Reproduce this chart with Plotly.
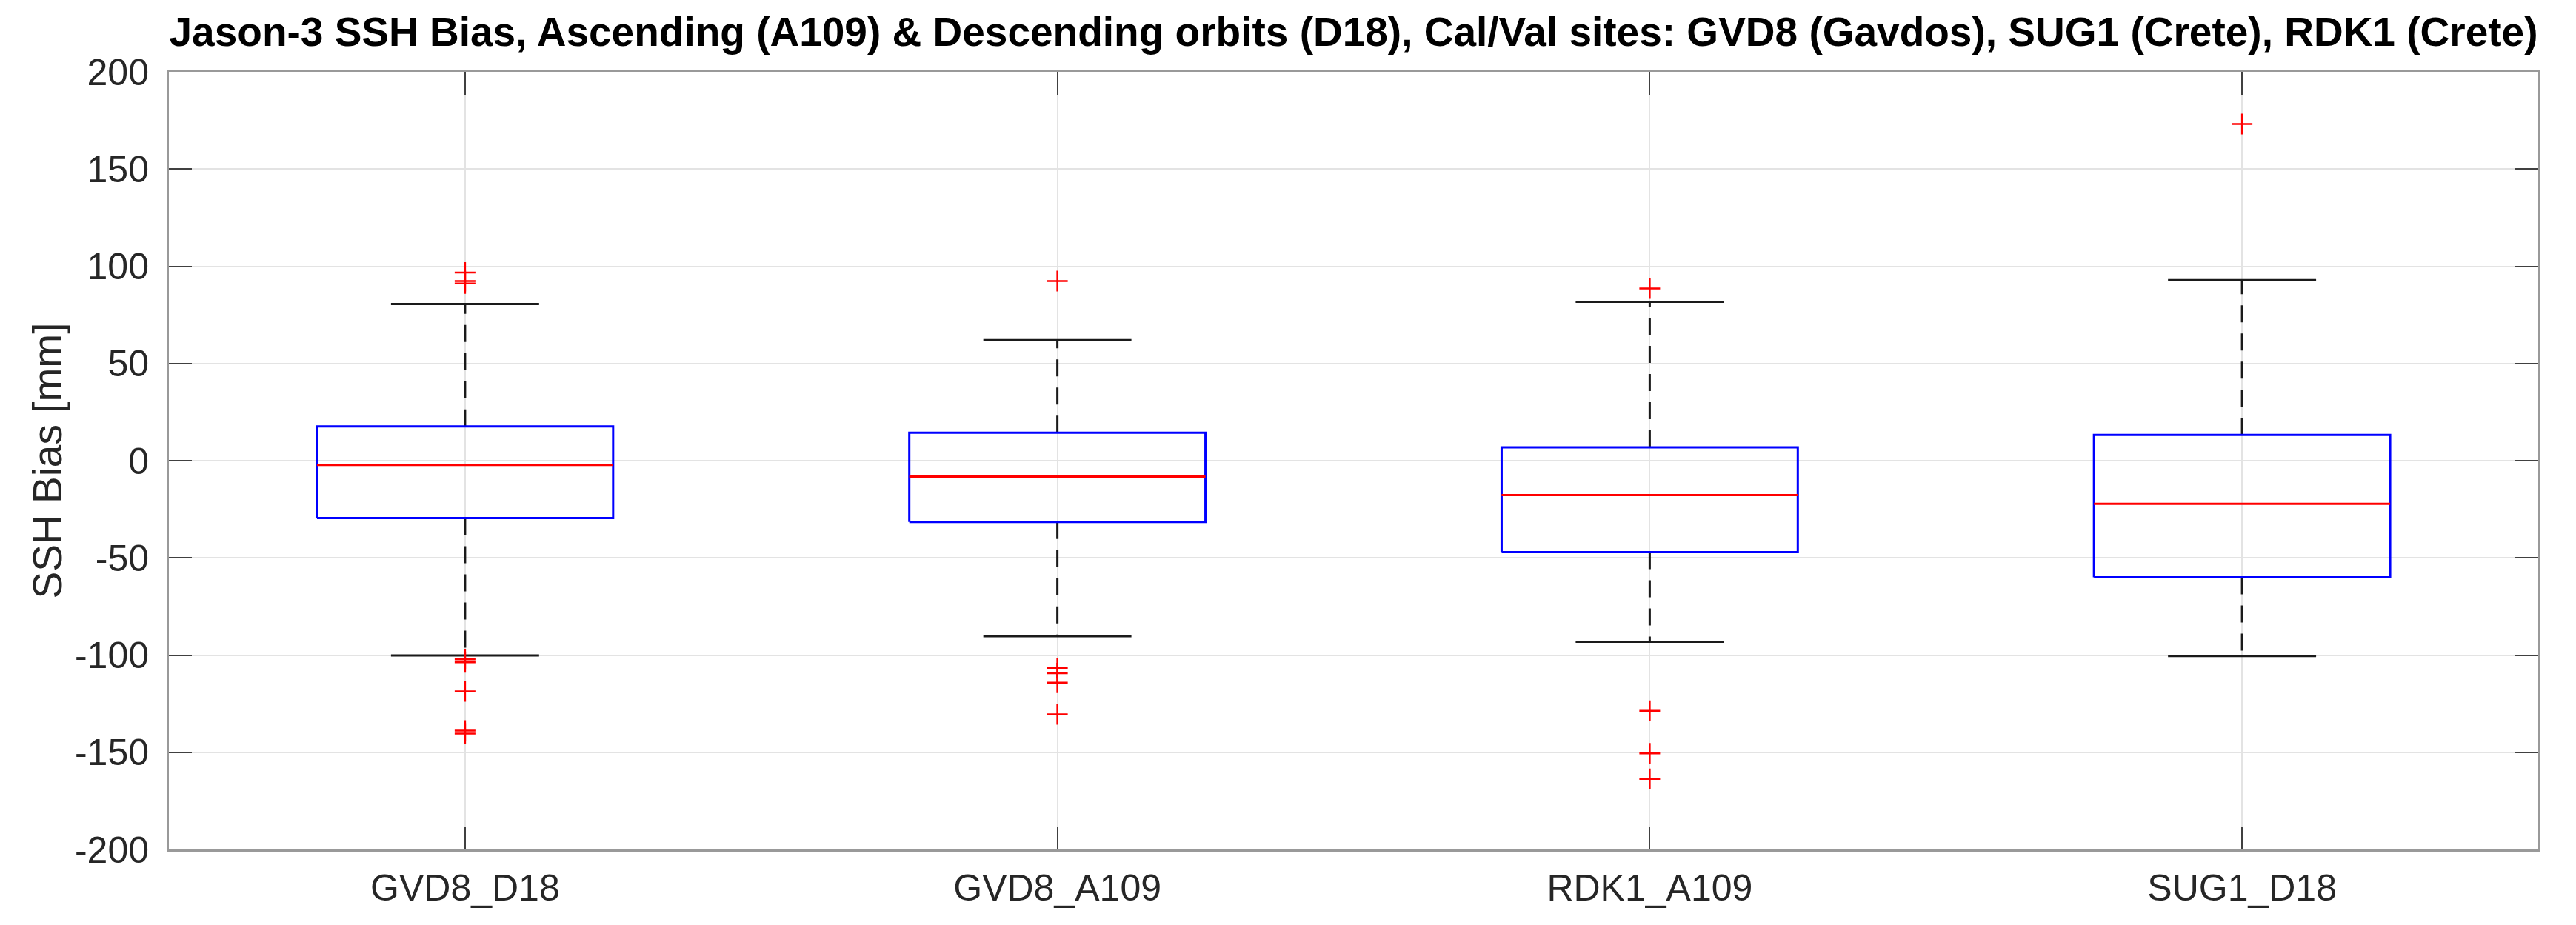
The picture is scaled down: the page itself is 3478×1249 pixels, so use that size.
import plotly.graph_objects as go

# ---- data ----
categories = ["GVD8_D18", "GVD8_A109", "RDK1_A109", "SUG1_D18"]
q1 = [-29.5, -31.5, -47.0, -60.0]
medians = [-2.2, -8.2, -17.7, -22.2]
q3 = [17.6, 14.4, 6.9, 13.2]
lower_whisker = [-100.2, -90.3, -93.1, -100.5]
upper_whisker = [80.6, 62.0, 81.7, 92.9]
outliers_gvd8_d18 = [96.8, 92.4, 91.1, -102.2, -103.7, -118.7, -138.9, -140.4]
outliers_gvd8_a109 = [92.4, -106.7, -109.3, -114.2, -130.5]
outliers_rdk1_a109 = [88.6, -128.7, -150.6, -163.7]
outliers_sug1_d18 = [173.1]
outliers = [outliers_gvd8_d18, outliers_gvd8_a109, outliers_rdk1_a109, outliers_sug1_d18]
y_tick_values = [-200, -150, -100, -50, 0, 50, 100, 150, 200]
y_tick_labels = ["-200", "-150", "-100", "-50", "0", "50", "100", "150", "200"]

title_text = ("Jason-3 SSH Bias, Ascending (A109) & Descending orbits (D18), "
              "Cal/Val sites: GVD8 (Gavdos), SUG1 (Crete), RDK1 (Crete)")
y_title = "SSH Bias [mm]"

# ---- styling ----
BOX_HALF = 0.25
CAP_HALF = 0.125
BLUE = "#0000ff"
RED = "#ff0000"
FONT = "Liberation Sans, Arial, Helvetica, sans-serif"

fig = go.Figure()

for i, cat in enumerate(categories):
    xc = i + 1
    # whiskers (dashed)
    fig.add_trace(go.Scatter(
        x=[xc, xc, None, xc, xc],
        y=[q3[i], upper_whisker[i], None, q1[i], lower_whisker[i]],
        mode="lines", line=dict(color="#1a1a1a", width=3, dash="23px,15px"),
        hoverinfo="skip", showlegend=False))
    # caps
    fig.add_trace(go.Scatter(
        x=[xc - CAP_HALF, xc + CAP_HALF, None, xc - CAP_HALF, xc + CAP_HALF],
        y=[upper_whisker[i], upper_whisker[i], None, lower_whisker[i], lower_whisker[i]],
        mode="lines", line=dict(color="#1a1a1a", width=3),
        hoverinfo="skip", showlegend=False))
    # box
    fig.add_trace(go.Scatter(
        x=[xc - BOX_HALF, xc + BOX_HALF, xc + BOX_HALF, xc - BOX_HALF, xc - BOX_HALF],
        y=[q1[i], q1[i], q3[i], q3[i], q1[i]],
        mode="lines", line=dict(color=BLUE, width=3),
        hoverinfo="skip", showlegend=False))
    # median
    fig.add_trace(go.Scatter(
        x=[xc - BOX_HALF, xc + BOX_HALF],
        y=[medians[i], medians[i]],
        mode="lines", line=dict(color=RED, width=3),
        hoverinfo="skip", showlegend=False))
    # outliers
    fig.add_trace(go.Scatter(
        x=[xc] * len(outliers[i]), y=outliers[i], mode="markers",
        marker=dict(symbol="cross-thin", size=20, color=RED,
                    line=dict(color=RED, width=2.5)),
        hoverinfo="skip", showlegend=False))

axis_common = dict(
    showline=True, linecolor="#999999", linewidth=3, mirror="ticks",
    ticks="inside", ticklen=31, tickwidth=2, tickcolor="#404040",
    showgrid=True, gridcolor="#e3e3e3", gridwidth=2, zeroline=False,
    tickfont=dict(family=FONT, size=50, color="#262626"),
)

fig.update_layout(
    width=3478, height=1249,
    margin=dict(l=228, r=51, t=97, b=102),
    paper_bgcolor="white", plot_bgcolor="white",
    title=dict(text="<b>" + title_text + "</b>", x=0.5, xref="paper",
               y=1 - 43 / 1249, yref="container", yanchor="middle", xanchor="center",
               font=dict(family=FONT, size=55, color="black")),
    xaxis=dict(range=[0.5, 4.5], tickmode="array",
               tickvals=[i + 1 for i in range(len(categories))],
               ticktext=categories, ticklabelstandoff=6, **axis_common),
    yaxis=dict(range=[-200, 200], tickmode="array", tickvals=y_tick_values,
               ticktext=y_tick_labels, ticklabelstandoff=14,
               title=dict(text=y_title, standoff=0,
                          font=dict(family=FONT, size=55, color="#262626")),
               **axis_common),
    showlegend=False,
)

fig.write_html("out.html", config={"displayModeBar": False},
               post_script="document.body.style.margin='0';document.body.style.overflow='hidden';")
